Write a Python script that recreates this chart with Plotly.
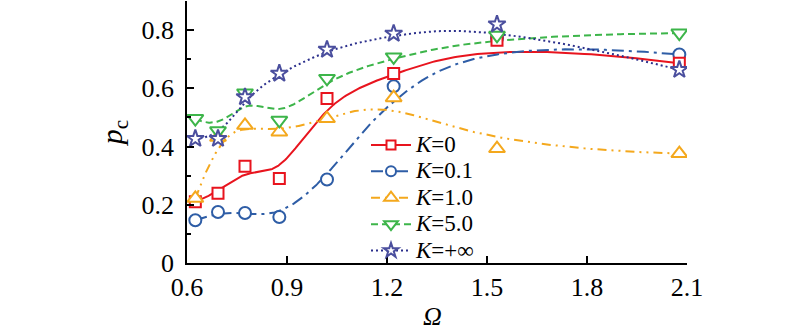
import numpy as np
import plotly.graph_objects as go

omega = [0.625, 0.693, 0.774, 0.877, 1.02, 1.22, 1.53, 2.077]
k0   = [0.210, 0.240, 0.332, 0.290, 0.565, 0.651, 0.765, 0.686]
k01  = [0.147, 0.175, 0.172, 0.158, 0.287, 0.607, 0.772, 0.716]
k1   = [0.222, 0.432, 0.473, 0.450, 0.496, 0.568, 0.393, 0.376]
k5   = [0.496, 0.454, 0.584, 0.490, 0.634, 0.708, 0.782, 0.790]
kinf = [0.427, 0.427, 0.570, 0.651, 0.733, 0.788, 0.820, 0.664]

names = ["<i>K</i>=0", "<i>K</i>=0.1", "<i>K</i>=1.0", "<i>K</i>=5.0", "<i>K</i>=+∞"]
series = [k0, k01, k1, k5, kinf]
colors = ["#E8141E", "#2E5DA6", "#F4A81D", "#3DB54A", "#4B4F9E"]
line_colors = ["#E8141E", "#2E5DA6", "#F4A81D", "#3DB54A", "#2B2F8C"]
dashes = ["solid", "12px,5px,3px,5px", "9px,5px,2px,5px,2px,5px", "7px,4px", "2px,3px"]
symbols = ["square", "circle", "triangle-up", "triangle-down", "star"]
sizes = [11, 12, 14, 14, 13]


def bspline(xs, ys, deg=3, n=300):
    P = np.column_stack([xs, ys]).astype(float)
    m = len(P)
    inner = np.linspace(0, 1, m - deg + 1)
    t = np.concatenate([np.zeros(deg), inner, np.ones(deg)])
    u = np.linspace(0, 1 - 1e-10, n)

    def N(i, k):
        if k == 0:
            return ((t[i] <= u) & (u < t[i + 1])).astype(float)
        a = np.zeros_like(u)
        d1 = t[i + k] - t[i]
        if d1 > 0:
            a += (u - t[i]) / d1 * N(i, k - 1)
        d2 = t[i + k + 1] - t[i + 1]
        if d2 > 0:
            a += (t[i + k + 1] - u) / d2 * N(i + 1, k - 1)
        return a

    B = np.array([N(i, deg) for i in range(m)])
    C = B.T @ P
    C[-1] = P[-1]
    return C[:, 0], C[:, 1]


fig = go.Figure()
# curves
for ys, lc, d in zip(series, line_colors, dashes):
    cx, cy = bspline(omega, ys)
    fig.add_trace(go.Scatter(x=cx, y=cy, mode="lines", showlegend=False,
                             line=dict(color=lc, width=2, dash=d), hoverinfo="skip"))
# markers (blue first so that it sits under the red square)
order = [1, 0, 2, 3, 4]
for i in order:
    fig.add_trace(go.Scatter(x=omega, y=series[i], mode="markers", showlegend=False,
                             marker=dict(symbol=symbols[i], size=sizes[i], color="white",
                                         line=dict(color=colors[i], width=2))))
# legend entries
for ys, name, c, lc, d, s, sz in zip(series, names, colors, line_colors, dashes, symbols, sizes):
    fig.add_trace(go.Scatter(x=[None], y=[None], mode="lines+markers",
                             name=f'<span style="font-size:23px">{name}</span>',
                             line=dict(color=lc, width=2, dash=d),
                             marker=dict(symbol=s, size=sz - 2, color="white",
                                         line=dict(color=c, width=2))))

serif = "Liberation Serif"
fig.update_layout(
    width=800, height=334,
    margin=dict(l=187, r=113, t=1, b=71),
    paper_bgcolor="white", plot_bgcolor="white",
    font=dict(family=serif, size=26, color="black"),
    showlegend=True,
    legend=dict(x=0.358, y=0.52, xanchor="left", yanchor="top",
                bgcolor="rgba(0,0,0,0)", font=dict(size=18, family=serif),
                itemwidth=40, tracegroupgap=0),
    xaxis=dict(range=[0.6, 2.1], tickvals=[0.6, 0.9, 1.2, 1.5, 1.8, 2.1],
               ticktext=["0.6", "0.9", "1.2", "1.5", "1.8", "2.1"],
               showgrid=False, zeroline=False, showline=True, linecolor="black", linewidth=1.5,
               ticks="inside", ticklen=7, tickwidth=1.5, tickcolor="black"),
    yaxis=dict(range=[0, 0.9], tickvals=[0, 0.2, 0.4, 0.6, 0.8],
               ticktext=["0", "0.2", "0.4", "0.6", "0.8"],
               showgrid=False, zeroline=False, showline=True, linecolor="black", linewidth=1.5,
               ticks="inside", ticklen=7, tickwidth=1.5, tickcolor="black",
               minor=dict(tickvals=[0.1, 0.3, 0.5, 0.7, 0.9], ticks="inside", ticklen=4,
                          tickwidth=1.5, tickcolor="black"),
               ticklabelstandoff=6,
               title=dict(text="<i>p</i><sub>c</sub>", font=dict(size=30), standoff=10)),
    annotations=[dict(text="<i>Ω</i>", xref="paper", yref="paper", x=0.49, y=-0.205,
                      xanchor="center", yanchor="middle", showarrow=False,
                      font=dict(size=26, family=serif))],
)
fig.write_html("out.html")
